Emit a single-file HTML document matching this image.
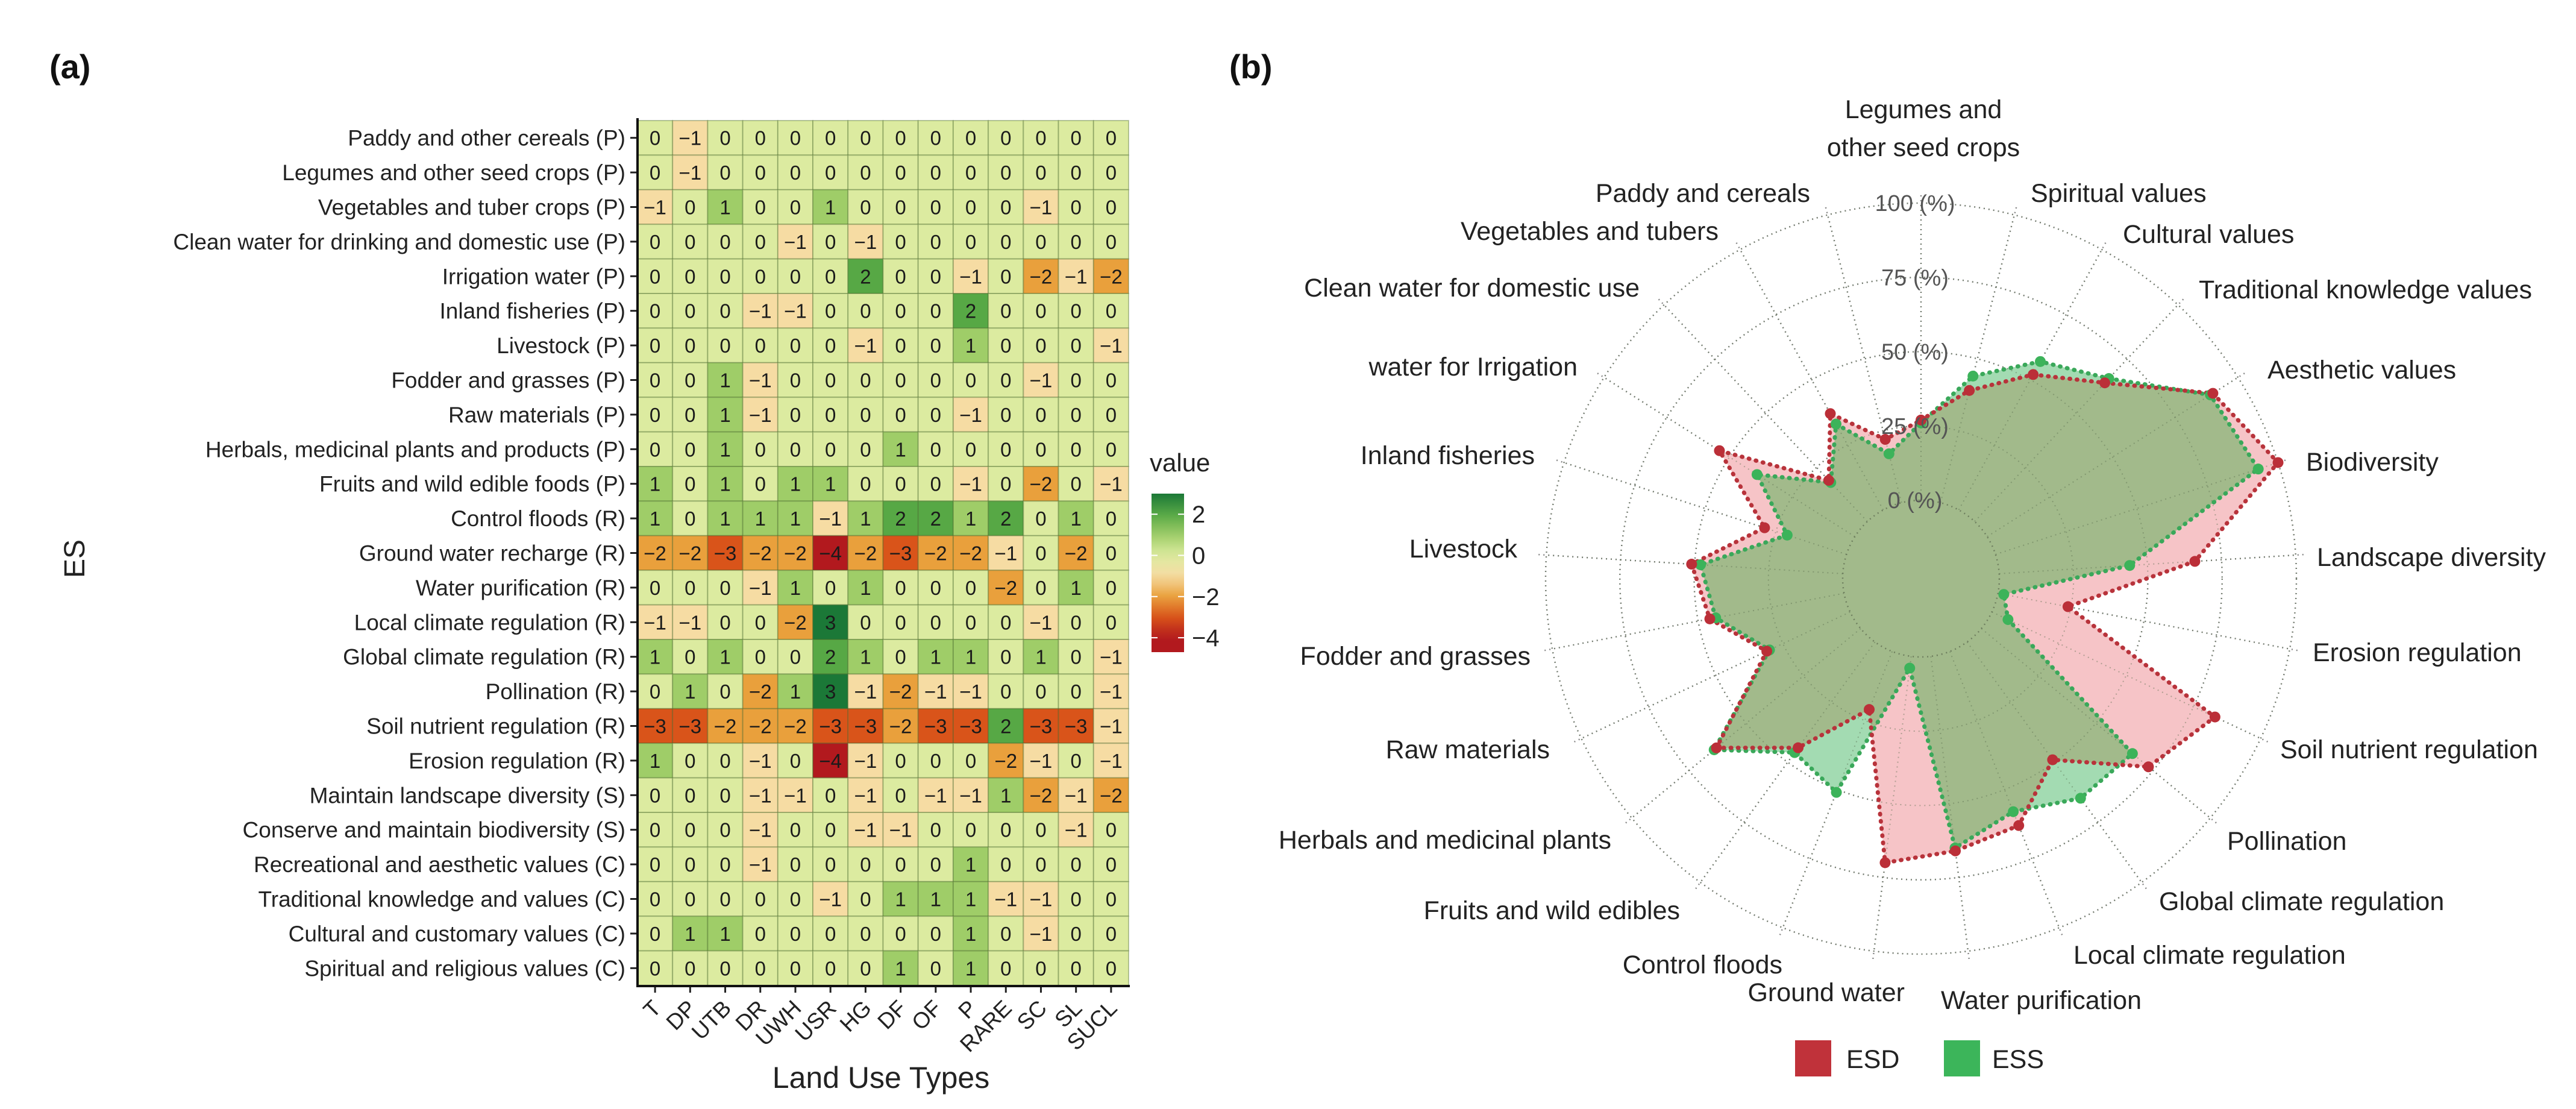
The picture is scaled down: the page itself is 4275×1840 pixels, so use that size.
<!DOCTYPE html>
<html><head><meta charset="utf-8">
<style>
html,body{margin:0;padding:0;background:#fff;}
svg{display:block;font-family:"Liberation Sans",Arial,sans-serif;}
</style></head>
<body>
<svg id="fig" width="4275" height="1840" viewBox="0 0 4275 1840" xmlns="http://www.w3.org/2000/svg">
<rect x="0" y="0" width="4275" height="1840" fill="#fff"/>
<text x="82" y="130" font-size="56" font-weight="bold" fill="#111">(a)</text>
<text x="2040" y="130" font-size="56" font-weight="bold" fill="#111">(b)</text>
<g id="heat"></g>
<g id="radar"></g>
</svg>
<script>
// ===== Heatmap data =====
const esLabels = ["Paddy and other cereals (P)","Legumes and other seed crops (P)","Vegetables and tuber crops (P)","Clean water for drinking and domestic use (P)","Irrigation water (P)","Inland fisheries (P)","Livestock (P)","Fodder and grasses (P)","Raw materials (P)","Herbals, medicinal plants and products (P)","Fruits and wild edible foods (P)","Control floods (R)","Ground water recharge (R)","Water purification (R)","Local climate regulation (R)","Global climate regulation (R)","Pollination (R)","Soil nutrient regulation (R)","Erosion regulation (R)","Maintain landscape diversity (S)","Conserve and maintain biodiversity (S)","Recreational and aesthetic values (C)","Traditional knowledge and values (C)","Cultural and customary values (C)","Spiritual and religious values (C)"];
const landUse = ["T","DP","UTB","DR","UWH","USR","HG","DF","OF","P","RARE","SC","SL","SUCL"];
const heatValues = [
[0,-1,0,0,0,0,0,0,0,0,0,0,0,0],
[0,-1,0,0,0,0,0,0,0,0,0,0,0,0],
[-1,0,1,0,0,1,0,0,0,0,0,-1,0,0],
[0,0,0,0,-1,0,-1,0,0,0,0,0,0,0],
[0,0,0,0,0,0,2,0,0,-1,0,-2,-1,-2],
[0,0,0,-1,-1,0,0,0,0,2,0,0,0,0],
[0,0,0,0,0,0,-1,0,0,1,0,0,0,-1],
[0,0,1,-1,0,0,0,0,0,0,0,-1,0,0],
[0,0,1,-1,0,0,0,0,0,-1,0,0,0,0],
[0,0,1,0,0,0,0,1,0,0,0,0,0,0],
[1,0,1,0,1,1,0,0,0,-1,0,-2,0,-1],
[1,0,1,1,1,-1,1,2,2,1,2,0,1,0],
[-2,-2,-3,-2,-2,-4,-2,-3,-2,-2,-1,0,-2,0],
[0,0,0,-1,1,0,1,0,0,0,-2,0,1,0],
[-1,-1,0,0,-2,3,0,0,0,0,0,-1,0,0],
[1,0,1,0,0,2,1,0,1,1,0,1,0,-1],
[0,1,0,-2,1,3,-1,-2,-1,-1,0,0,0,-1],
[-3,-3,-2,-2,-2,-3,-3,-2,-3,-3,2,-3,-3,-1],
[1,0,0,-1,0,-4,-1,0,0,0,-2,-1,0,-1],
[0,0,0,-1,-1,0,-1,0,-1,-1,1,-2,-1,-2],
[0,0,0,-1,0,0,-1,-1,0,0,0,0,-1,0],
[0,0,0,-1,0,0,0,0,0,1,0,0,0,0],
[0,0,0,0,0,-1,0,1,1,1,-1,-1,0,0],
[0,1,1,0,0,0,0,0,0,1,0,-1,0,0],
[0,0,0,0,0,0,0,1,0,1,0,0,0,0]
];
const legendTicks = [2,0,-2,-4];

// ===== Radar data =====
const radarAxes = ["Legumes and other seed crops","Spiritual values","Cultural values","Traditional knowledge values","Aesthetic values","Biodiversity","Landscape diversity","Erosion regulation","Soil nutrient regulation","Pollination","Global climate regulation","Local climate regulation","Water purification","Ground water","Control floods","Fruits and wild edibles","Herbals and medicinal plants","Raw materials","Fodder and grasses","Livestock","Inland fisheries","water for Irrigation","Clean water for domestic use","Vegetables and tubers","Paddy and cereals"];
const esdValues = [27,39,52,64,90,100,66,24,83,73,49,63,66,70,21,44,63,31,46,51,29,54,19,37,22];
const essValues = [26,44,57,66,89,93,44,2,6,66,65,58,65,4,51,46,64,30,44,48,21,39,18,33,17];
const ringValues = [0,25,50,75,100];

const NS="http://www.w3.org/2000/svg";
function mk(tag, attrs, parent){const e=document.createElementNS(NS,tag);for(const k in attrs)e.setAttribute(k,attrs[k]);if(parent)parent.appendChild(e);return e;}

// ---------- Heatmap ----------
const heat=document.getElementById('heat');
const hx0=1058,hy0=200,hx1=1873,hy1=1635;
const cw=(hx1-hx0)/landUse.length, ch=(hy1-hy0)/esLabels.length;
const xPos=j=>hx0+j*cw, yPos=i=>hy0+i*ch;
const stops=[[-4,[178,25,30]],[-3,[217,84,26]],[-2,[233,160,60]],[-1,[246,220,163]],[0,[220,235,160]],[1,[159,205,104]],[2,[87,168,69]],[3,[27,120,55]]];
function colorOf(v){
  if(v<=stops[0][0])return 'rgb('+stops[0][1].join(',')+')';
  for(let k=0;k<stops.length-1;k++){const a=stops[k],b=stops[k+1];
    if(v<=b[0]){const t=(v-a[0])/(b[0]-a[0]);const c=a[1].map((x,i)=>Math.round(x+(b[1][i]-x)*t));return 'rgb('+c.join(',')+')';}}
  return 'rgb('+stops[stops.length-1][1].join(',')+')';
}
heatValues.forEach((row,i)=>{
  row.forEach((v,j)=>{
    const r=mk('rect',{x:xPos(j),y:yPos(i),width:cw,height:ch,fill:colorOf(v),stroke:'rgba(70,100,40,0.35)','stroke-width':2},heat);
    
    
    const t=mk('text',{x:xPos(j)+cw/2,y:yPos(i)+ch/2+12,'font-size':33,'text-anchor':'middle',fill:'#1a1a1a'},heat);
    t.textContent=v<0?'\u2212'+Math.abs(v):String(v);
    
    
  });
});
esLabels.forEach((lab,i)=>{
  const t=mk('text',{x:hx0-20,y:yPos(i)+ch/2+13,'font-size':37,'text-anchor':'end',fill:'#222'},heat);
  t.textContent=lab;
  
  
  mk('line',{x1:hx0-12,x2:hx0,y1:yPos(i)+ch/2,y2:yPos(i)+ch/2,stroke:'#222','stroke-width':3},heat);
});
landUse.forEach((lab,j)=>{
  const cx=xPos(j)+cw/2;
  mk('line',{x1:cx,x2:cx,y1:hy1,y2:hy1+12,stroke:'#222','stroke-width':3},heat);
  const t=mk('text',{x:cx+12,y:hy1+40,'font-size':37,'text-anchor':'end',fill:'#222',transform:'rotate(-45 '+(cx+12)+' '+(hy1+40)+')'},heat);
  t.textContent=lab;
  
  
});
mk('line',{x1:hx0,x2:hx0,y1:hy0-4,y2:hy1+2,stroke:'#111','stroke-width':4},heat);
mk('line',{x1:hx0-2,x2:hx1+2,y1:hy1+1,y2:hy1+1,stroke:'#111','stroke-width':4},heat);
let t=mk('text',{x:1462,y:1805,'font-size':50,'text-anchor':'middle',fill:'#222'},heat);
t.textContent='Land Use Types';

t=mk('text',{x:140,y:927,'font-size':48,'text-anchor':'middle',fill:'#222',transform:'rotate(-90 140 927)'},heat);
t.textContent='ES';

// colour legend
const lg=mk('g',{},heat);
const defs=mk('defs',{},document.getElementById('fig'));
const grad=mk('linearGradient',{id:'lgGrad',x1:0,y1:0,x2:0,y2:1},defs);
const lgTop=819,lgBot=1082,vTop=3.0,vBot=-4.7;
for(let k=0;k<=14;k++){const v=vTop+(vBot-vTop)*k/14;mk('stop',{offset:(k/14),'stop-color':colorOf(v)},grad);}
mk('rect',{x:1911,y:lgTop,width:54,height:lgBot-lgTop,fill:'url(#lgGrad)'},lg);
const lgY=v=>lgTop+(vTop-v)/(vTop-vBot)*(lgBot-lgTop);
legendTicks.forEach(v=>{
  mk('line',{x1:1911,x2:1921,y1:lgY(v),y2:lgY(v),stroke:'#fff','stroke-width':2},lg);
  mk('line',{x1:1955,x2:1965,y1:lgY(v),y2:lgY(v),stroke:'#fff','stroke-width':2},lg);
  const tt=mk('text',{x:1978,y:lgY(v)+14,'font-size':40,fill:'#222'},lg);
  tt.textContent=v<0?'\u2212'+Math.abs(v):String(v);
  
});
t=mk('text',{x:1908,y:782,'font-size':42,fill:'#222'},lg);t.textContent='value';


// ---------- Radar ----------
const rad=document.getElementById('radar');
const CX=3188,CY=960,R0=130,R100=623;
const n=radarAxes.length;
const rOf=v=>R0+v/100*(R100-R0);
const ang=i=>i*2*Math.PI/n;
const pt=(i,v)=>[CX+rOf(v)*Math.sin(ang(i)),CY-rOf(v)*Math.cos(ang(i))];
// grid
ringValues.forEach(v=>{
  const c=mk('circle',{cx:CX,cy:CY,r:rOf(v),fill:'none',stroke:'#888','stroke-width':2.5,'stroke-dasharray':'2 6'},rad);
  
});
for(let i=0;i<n;i++){
  const a=ang(i);
  const l=mk('line',{x1:CX+R0*Math.sin(a),y1:CY-R0*Math.cos(a),x2:CX+640*Math.sin(a),y2:CY-640*Math.cos(a),stroke:'#888','stroke-width':2.5,'stroke-dasharray':'2 6'},rad);
  
}
const esdPts=esdValues.map((v,i)=>pt(i,v)), essPts=essValues.map((v,i)=>pt(i,v));
const ptsStr=p=>p.map(q=>q[0].toFixed(1)+','+q[1].toFixed(1)).join(' ');
const clip=mk('clipPath',{id:'esdClip'},defs);
mk('polygon',{points:ptsStr(esdPts)},clip);
let pg=mk('polygon',{points:ptsStr(esdPts),fill:'#f6c4c7'},rad);

pg=mk('polygon',{points:ptsStr(essPts),fill:'#a3dbb2'},rad);

pg=mk('polygon',{points:ptsStr(essPts),fill:'#a2ba8b','clip-path':'url(#esdClip)'},rad);

// inner ring on top
mk('circle',{cx:CX,cy:CY,r:R0,fill:'none',stroke:'#6f7f5f','stroke-width':2.5,'stroke-dasharray':'2 6'},rad);
// re-draw faint grid over fill
ringValues.slice(1).forEach(v=>{mk('circle',{cx:CX,cy:CY,r:rOf(v),fill:'none',stroke:'rgba(90,110,80,0.45)','stroke-width':2,'stroke-dasharray':'2 6'},rad);});
for(let i=0;i<n;i++){const a=ang(i);mk('line',{x1:CX+R0*Math.sin(a),y1:CY-R0*Math.cos(a),x2:CX+R100*Math.sin(a),y2:CY-R100*Math.cos(a),stroke:'rgba(90,110,80,0.45)','stroke-width':2,'stroke-dasharray':'2 6'},rad);}
// lines
let pl=mk('polygon',{points:ptsStr(essPts),fill:'none',stroke:'#3aa85a','stroke-width':7,'stroke-dasharray':'1 11','stroke-linecap':'round'},rad);

pl=mk('polygon',{points:ptsStr(esdPts),fill:'none',stroke:'#b8333b','stroke-width':7,'stroke-dasharray':'1 11','stroke-linecap':'round'},rad);

essPts.forEach(p=>{const c=mk('circle',{cx:p[0],cy:p[1],r:9,fill:'#3cb35a'},rad);});
esdPts.forEach(p=>{const c=mk('circle',{cx:p[0],cy:p[1],r:9,fill:'#bb2f38'},rad);});
// ring labels
ringValues.forEach(v=>{
  const tt=mk('text',{x:CX-10,y:CY-rOf(v)+13,'font-size':38,'text-anchor':'middle',fill:'#555'},rad);
  tt.textContent=v+' (%)';
  
});
// axis labels
const labelPos=[[3192,181,'middle'],[3370,320,'start'],[3523,388,'start'],[3649,480,'start'],[3763,613,'start'],[3827,766,'start'],[3845,924,'start'],[3838,1082,'start'],[3784,1243,'start'],[3696,1395,'start'],[3583,1495,'start'],[3441,1584,'start'],[3221,1659,'start'],[3161,1646,'end'],[2958,1600,'end'],[2788,1510,'end'],[2674,1393,'end'],[2572,1243,'end'],[2540,1088,'end'],[2518,910,'end'],[2547,755,'end'],[2618,608,'end'],[2721,477,'end'],[2852,383,'end'],[3004,320,'end']];
radarAxes.forEach((lab,i)=>{
  const p=labelPos[i];
  if(i===0){
    const a=mk('text',{x:p[0],y:p[1]+15,'font-size':43,'text-anchor':'middle',fill:'#222'},rad);a.textContent='Legumes and';
    
    const b=mk('text',{x:p[0],y:p[1]+78,'font-size':43,'text-anchor':'middle',fill:'#222'},rad);b.textContent='other seed crops';
    
    return;
  }
  const tt=mk('text',{x:p[0],y:p[1]+15,'font-size':43,'text-anchor':p[2],fill:'#222'},rad);
  tt.textContent=lab;
  
});
// legend
const rl=mk('g',{},rad);
let sq=mk('rect',{x:2979,y:1726,width:60,height:60,fill:'#c0323a'},rl);
t=mk('text',{x:3064,y:1772,'font-size':43,fill:'#222'},rl);t.textContent='ESD';
sq=mk('rect',{x:3226,y:1726,width:60,height:60,fill:'#3cb55a'},rl);
t=mk('text',{x:3306,y:1772,'font-size':43,fill:'#222'},rl);t.textContent='ESS';
</script>
</body></html>
